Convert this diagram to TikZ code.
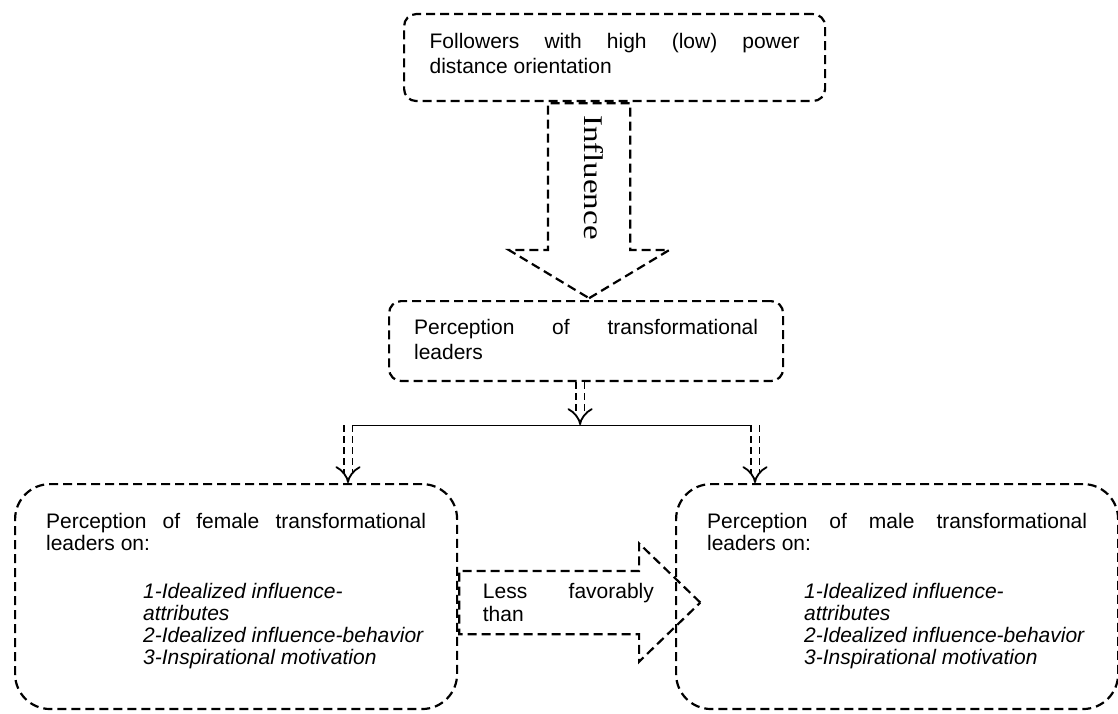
\documentclass[tikz,border=0pt]{standalone}
\usepackage{fontspec}
\setmainfont{Liberation Sans}
\newfontfamily\inflfont[FakeStretch=1.22]{Liberation Serif}
\usetikzlibrary{arrows.meta,shapes.arrows}
\newcommand{\lowstrut}[1]{\rule[-#1]{0pt}{#1}}
\newcommand{\boxfont}[2]{\fontsize{#1}{#2}\selectfont
  \hyphenpenalty=10000 \spaceskip=0.278em plus 30pt\relax}

\tikzset{
  dashline/.style={line width=2.2pt, dash pattern=on 9pt off 5pt},
  box/.style={dashline, draw, rounded corners=12pt, align=justify,
    font=\boxfont{21pt}{25pt}},
  bigbox/.style={box, rounded corners=35pt, text width=380pt, inner xsep=31pt,
    inner ysep=28.7pt, font=\boxfont{21pt}{22pt}},
  blockarrow/.style={dashline, draw, single arrow, inner xsep=0pt},
  thinarrow/.style={line width=1.8pt, dash pattern=on 7pt off 4pt, double,
    double distance=7pt, -{Implies}},
}

\begin{document}
\begin{tikzpicture}[x=1pt, y=-1pt]
\useasboundingbox (0,0) rectangle (1118,714);

% Kaesten
\node[box, text width=370pt, inner xsep=25.5pt, inner ysep=18.7pt, anchor=north west]
  (follow) at (403,13) {Followers with high (low) power distance orientation\lowstrut{9.3pt}};
\node[box, text width=344pt, inner xsep=25pt, inner ysep=17.7pt, anchor=north west]
  (perc) at (388,300) {Perception of transformational leaders\lowstrut{4.3pt}};
\node[bigbox, anchor=north west] (female) at (14,483)
  {Perception of female transformational leaders on:\\[26pt]
   \hspace*{97pt}\textit{1-Idealized influence-}\\
   \hspace*{97pt}\textit{attributes}\\
   \hspace*{97pt}\textit{2-Idealized influence-behavior}\\
   \hspace*{97pt}\textit{3-Inspirational motivation}\lowstrut{16.3pt}};
\node[bigbox, anchor=north west] (male) at (675,483)
  {Perception of male transformational leaders on:\\[26pt]
   \hspace*{97pt}\textit{1-Idealized influence-}\\
   \hspace*{97pt}\textit{attributes}\\
   \hspace*{97pt}\textit{2-Idealized influence-behavior}\\
   \hspace*{97pt}\textit{3-Inspirational motivation}\lowstrut{16.3pt}};

% Blockpfeile
\node[blockarrow, rotate=-90, minimum height=195pt, inner ysep=40pt,
  single arrow head extend=39pt, single arrow tip angle=118, anchor=tail]
  (influ) at ([xshift=-25.5pt]follow.south) {};
\node[rotate=-90, anchor=west, inner sep=0pt, font=\inflfont\fontsize{27pt}{27pt}\selectfont]
  (influlabel) at ([xshift=4.5pt, yshift=-13pt]influ.tail) {Influence};

\node[blockarrow, minimum height=241pt, inner ysep=30.5pt,
  single arrow head extend=27.5pt, single arrow tip angle=88, anchor=tail]
  (less) at ([yshift=-6pt]female.east) {};
\node[anchor=north west, inner sep=0pt, text width=171pt, align=justify,
  font=\boxfont{21pt}{23pt}]
  (lesslabel) at ([xshift=24.5pt, yshift=19.8pt]less.tail) {Less favorably than};

% Verzweigung
\coordinate (splitL) at (348,425);
\coordinate (splitR) at (755,425);
\draw[line width=1pt] (splitL) -- ([xshift=5pt]splitR);
\draw[thinarrow] ([xshift=-6pt]perc.south) -- ([xshift=-6pt]perc.south |- splitL);
\draw[thinarrow] (splitL) -- (splitL |- female.north);
\draw[thinarrow] (splitR) -- (splitR |- male.north);

\end{tikzpicture}
\end{document}
